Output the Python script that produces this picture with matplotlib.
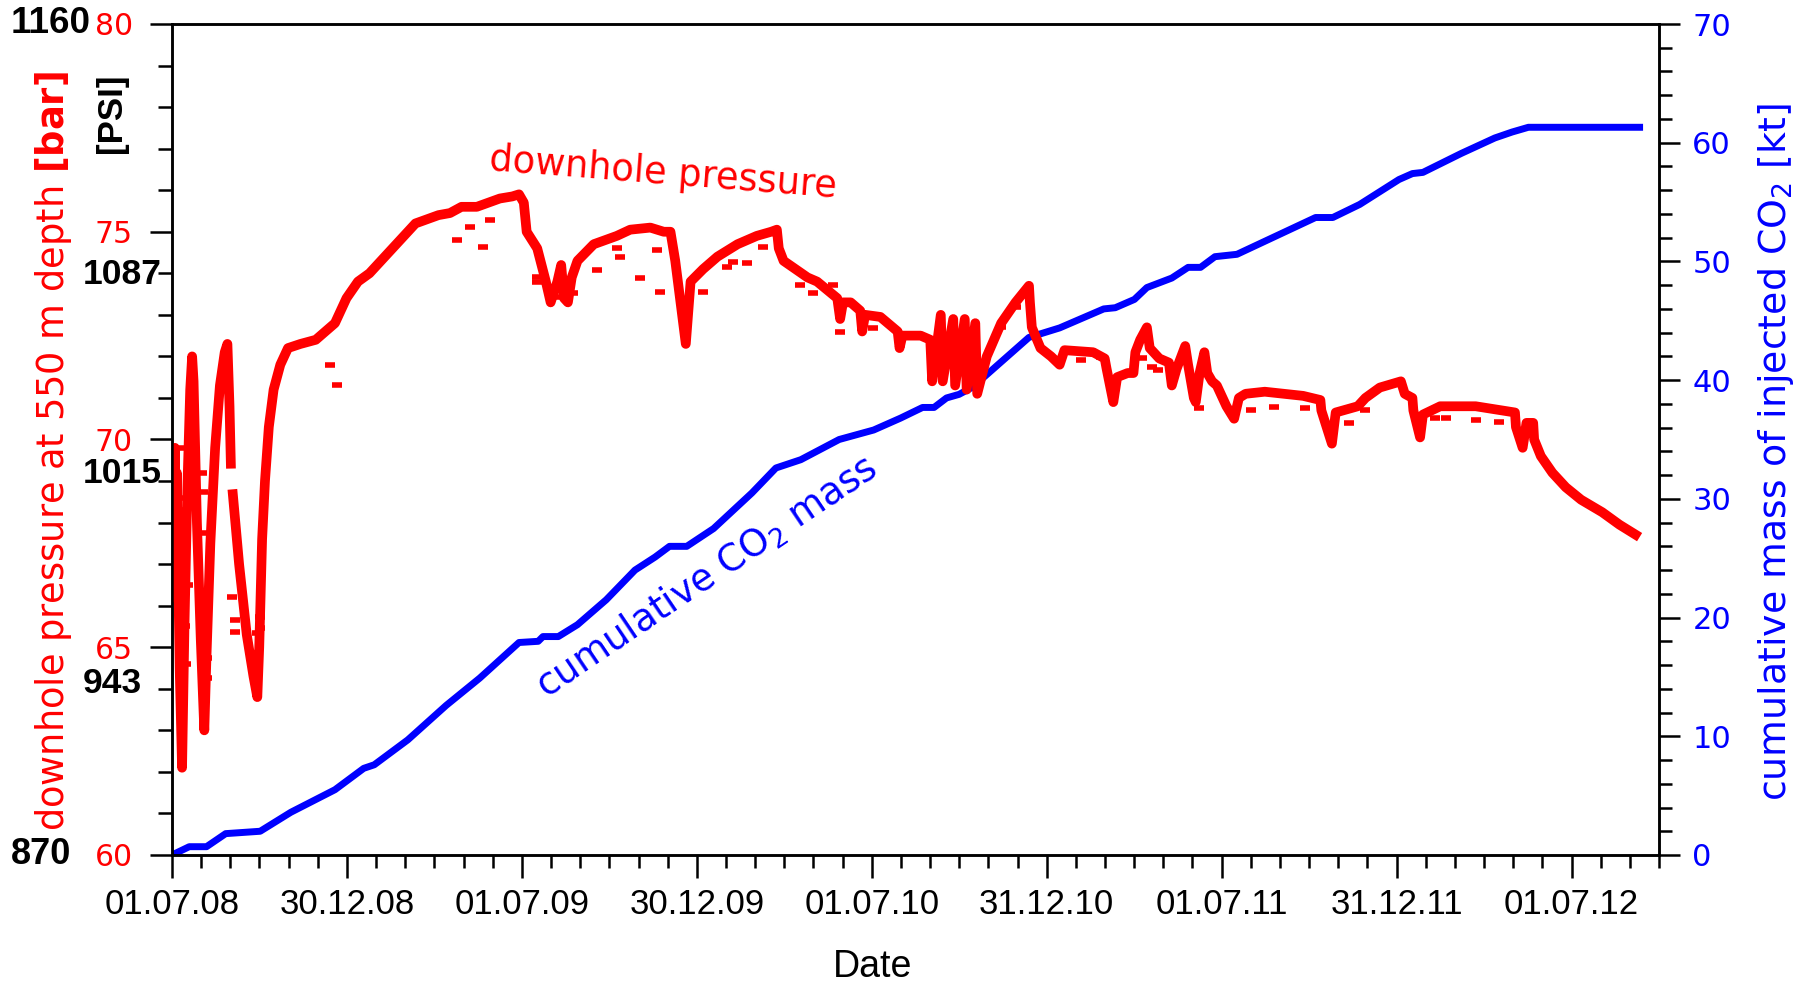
import numpy as np
import matplotlib
matplotlib.use("Agg")
import matplotlib.pyplot as plt
from matplotlib.transforms import blended_transform_factory

plt.rcParams["font.family"] = "DejaVu Sans"
plt.rcParams["mathtext.fontset"] = "dejavusans"

# ---------------- data ----------------
# time axis: days since 01.07.2008, labelled every half year (182.5 d)
x_tick_labels = ["01.07.08", "30.12.08", "01.07.09", "30.12.09", "01.07.10",
                 "31.12.10", "01.07.11", "31.12.11", "01.07.12"]
half_year = 182.5
x_end = 1551.25

# cumulative injected CO2 mass [kt]
mass_day = [0, 18, 36, 56, 74, 92, 124, 170, 200, 211, 246, 286, 321, 362, 382,
            387, 403, 423, 453, 483, 504, 519, 537, 565, 605, 630, 656, 696, 732,
            760, 783, 795, 808, 821, 835, 894, 926, 972, 984, 1004, 1017, 1043,
            1060, 1073, 1088, 1111, 1193, 1211, 1239, 1280, 1294, 1305, 1345,
            1380, 1398, 1415, 1531]
mass_kt = [0, 0.7, 0.7, 1.8, 1.9, 2.0, 3.6, 5.5, 7.3, 7.6, 9.7, 12.6, 14.9, 17.9,
           18.0, 18.4, 18.4, 19.4, 21.5, 24.0, 25.1, 26.0, 26.0, 27.5, 30.5, 32.6,
           33.3, 35.0, 35.8, 36.8, 37.7, 37.7, 38.5, 38.8, 39.4, 43.6, 44.4, 46.0,
           46.1, 46.8, 47.8, 48.6, 49.5, 49.5, 50.4, 50.6, 53.7, 53.7, 54.8, 56.9,
           57.4, 57.5, 59.1, 60.4, 60.9, 61.3, 61.3]

# downhole pressure at 550 m depth [bar] (NaN marks a data gap)
p_day = [0, 1, 2, 3, 4, 5, 6, 7, 8, 10.5, 13, 16, 19, 21, 22.5, 26, 30, 33.7, 36,
         40, 45, 50, 55, 57.8, 60, 61.5, np.nan, 63, 70, 78, 85, 89, 91, 94, 97,
         101, 106, 113, 121, 134, 150, 160, 170, 182, 194, 206, 218, 230, 242,
         254, 266, 278, 290, 302, 318, 330, 342, 355, 362, 367, 370, 381, 390,
         395, 402, 406, 409, 413, 417, 423, 440, 464, 478, 499, 513, 520, 525,
         530, 536, 541, 554, 569, 590, 610, 625, 631, 633, 638, 663, 673, 694,
         697, 700, 708, 718, 720, 723, 739, 757, 759, 762, 781, 791, 793, 802,
         804, 815, 817, 827, 829, 838, 840, 850, 865, 880, 894, 895, 897, 906,
         917, 926, 931, 961, 973, 975, 982, 986, 997, 1003, 1005, 1010, 1017,
         1020, 1030, 1040, 1043, 1048, 1057, 1060, 1066, 1068, 1072, 1077, 1080,
         1085, 1090, 1100, 1108, 1113, 1120, 1140, 1160, 1180, 1198, 1199, 1210,
         1214, 1237, 1245, 1260, 1282, 1286, 1294, 1295, 1302, 1305, 1323, 1360,
         1401, 1402, 1409, 1413, 1420, 1421, 1428, 1440, 1454, 1470, 1492, 1510,
         1531]
p_bar = [67.5, 69.6, 66.2, 69.8, 66.8, 69.2, 67.0, 66.0, 64.5, 62.1, 65.5, 68.8,
         71.2, 72.0, 71.4, 68.0, 65.2, 63.0, 64.8, 67.5, 69.8, 71.3, 72.1, 72.3,
         70.8, 69.3, np.nan, 68.8, 67.0, 65.3, 64.3, 63.8, 65.0, 67.6, 69.0, 70.3,
         71.2, 71.8, 72.2, 72.3, 72.4, 72.6, 72.8, 73.4, 73.8, 74.0, 74.3, 74.6,
         74.9, 75.2, 75.3, 75.4, 75.45, 75.6, 75.6, 75.7, 75.8, 75.85, 75.9, 75.7,
         75.0, 74.6, 73.8, 73.3, 73.8, 74.2, 73.4, 73.3, 73.9, 74.3, 74.7, 74.9,
         75.05, 75.1, 75.0, 75.0, 74.3, 73.4, 72.3, 73.8, 74.1, 74.4, 74.7, 74.9,
         75.0, 75.05, 74.6, 74.3, 73.9, 73.8, 73.4, 72.9, 73.3, 73.3, 73.1, 72.6,
         73.0, 72.95, 72.6, 72.2, 72.5, 72.5, 72.4, 71.4, 73.0, 71.4, 72.9, 71.3,
         72.9, 71.2, 72.8, 71.1, 72.0, 72.8, 73.3, 73.7, 73.3, 72.7, 72.2, 72.0,
         71.8, 72.15, 72.1, 71.95, 71.7, 70.9, 71.5, 71.6, 71.6, 72.1, 72.4, 72.7,
         72.2, 71.95, 71.85, 71.3, 71.7, 72.25, 71.8, 71.0, 70.9, 71.6, 72.1,
         71.6, 71.4, 71.3, 70.8, 70.5, 71.0, 71.1, 71.15, 71.1, 71.05, 70.95,
         70.7, 69.9, 70.65, 70.8, 71.0, 71.25, 71.4, 71.1, 71.0, 70.7, 70.05,
         70.6, 70.8, 70.8, 70.65, 70.3, 69.8, 70.4, 70.4, 70.0, 69.6, 69.2, 68.85,
         68.55, 68.25, 67.95, 67.65]

# isolated low pressure readings scattered below the main record
spike_day = [1, 1.5, 2.5, 3.5, 4.5, 5.5, 6.5, 8, 9, 11, 12, 14, 15, 17, 31.3,
             32.4, 32.4, 36.5, 36.5, 62.6, 65.8, 65.8, 88.7, 88.7, 91.9, 91.9,
             165, 172, 297.5, 311.1, 324.7, 332.0, 381.0, 381.0, 401.9, 418.6,
             443.7, 464.5, 467.7, 488.5, 506.3, 509.4, 537.6, 554.3, 579.4, 585.6,
             600.2, 617.0, 655.6, 669.1, 690.0, 697.3, 731.8, 864.3, 880.0, 947.9,
             968.7, 1011.5, 1022.0, 1028.2, 1071.0, 1125.3, 1149.3, 1181.7,
             1227.6, 1244.3, 1317.4, 1328.9, 1360.2, 1384.2]
spike_bar = [68.8, 67.6, 68.4, 67.2, 68.0, 66.4, 68.6, 69.8, 67.2, 68.3, 66.6,
             65.5, 64.6, 66.5, 69.19, 68.74, 67.75, 64.74, 64.26, 66.21, 65.66,
             65.37, 65.34, 64.77, 65.73, 65.46, 71.8, 71.3, 74.80, 75.11, 74.63,
             75.28, 73.91, 73.79, 73.43, 73.53, 74.08, 74.61, 74.39, 73.89, 74.56,
             73.55, 73.19, 73.55, 74.15, 74.27, 74.25, 74.63, 73.72, 73.53, 73.72,
             72.59, 72.68, 72.71, 73.19, 71.91, 71.99, 71.96, 71.74, 71.67, 70.76,
             70.71, 70.78, 70.76, 70.40, 70.71, 70.52, 70.52, 70.47, 70.42]

# pressure axis ticks [bar] and the PSI equivalents printed beside them
bar_ticks = [60, 65, 70, 75, 80]
psi_labels = ["1160", "1087", "1015", "943", "870"]
psi_at_bar = [80, 73.98, 69.17, 64.12, 60]
mass_ticks = [0, 10, 20, 30, 40, 50, 60, 70]

# ---------------- figure ----------------
W, H = 1808, 982
fig = plt.figure(figsize=(W / 100, H / 100), dpi=100)
ax = fig.add_axes([172 / W, 127 / H, 1487 / W, 831 / H])
ax2 = ax.twinx()
ax.set_zorder(ax2.get_zorder() + 1)
ax.patch.set_visible(False)

RED, BLUE = "#ff0000", "#0000ff"
NARROW = "Liberation Sans"
BOLD_SANS = "Liberation Sans"

ax2.plot(mass_day, mass_kt, color=BLUE, lw=5, solid_joinstyle="round")
ax.plot(p_day, p_bar, color=RED, lw=7, solid_joinstyle="round",
        solid_capstyle="butt")
ax.plot(spike_day, spike_bar, ls="none", marker="_", ms=7, mew=4, color=RED)

ax.set_xlim(0, x_end)
ax.set_ylim(60, 80)
ax2.set_ylim(0, 70)

ax.set_xticks(np.arange(len(x_tick_labels)) * half_year, x_tick_labels,
              fontsize=25, family=NARROW)
ax.set_xticks(np.arange(0, x_end + 1, half_year / 6), minor=True)
ax.set_yticks(bar_ticks, [str(v) for v in bar_ticks], fontsize=21.5, color=RED)
ax.set_yticks(np.arange(60, 81, 1), minor=True)
ax2.set_yticks(mass_ticks, [str(v) for v in mass_ticks], fontsize=22, color=BLUE)
ax2.set_yticks(np.arange(0, 71, 2), minor=True)

ax.tick_params(axis="x", which="major", direction="out", length=16.5, width=1.8,
               pad=7, colors="black")
ax.tick_params(axis="x", which="minor", direction="out", length=9.5, width=1.8)
ax.tick_params(axis="y", which="major", direction="out", length=16, width=1.8,
               pad=12, labelcolor=RED, color="black", right=False)
ax.tick_params(axis="y", which="minor", direction="out", length=10, width=1.8,
               right=False)
ax2.tick_params(axis="y", which="major", direction="out", length=15, width=1.8,
                pad=9, labelcolor=BLUE, color="black", left=False)
ax2.tick_params(axis="y", which="minor", direction="out", length=9.5, width=1.8,
                left=False)

for a in (ax, ax2):
    for s in a.spines.values():
        s.set_linewidth(1.8)
        s.set_color("black")

# PSI equivalents next to the bar scale
trans = blended_transform_factory(fig.transFigure, ax.transData)
psi_x = [11, 83, 83, 83, 11]
psi_size = [26.5, 25.5, 25.5, 25.5, 26]
for lab, yb, xp, fs in zip(psi_labels, psi_at_bar, psi_x, psi_size):
    ax.text(xp / W, yb, lab, transform=trans, ha="left", va="center",
            fontsize=fs, fontweight="bold", family=BOLD_SANS, color="black",
            clip_on=False)

# axis titles
fig.text(54 / W, 1 - 451 / H, r"downhole pressure at 550 m depth $\mathbf{[bar]}$",
         rotation=90, ha="center", va="center", color=RED, fontsize=26.5)
fig.text(111 / W, 1 - 113 / H, "[PSI]", rotation=90, ha="center", va="center",
         fontsize=25, fontweight="bold", family=BOLD_SANS, color="black")
fig.text(1776 / W, 1 - 452 / H, r"cumulative mass of injected CO$_2$ [kt]",
         rotation=90, ha="center", va="center", color=BLUE, fontsize=27.3)
fig.text(873 / W, 5 / H, "Date", ha="center", va="baseline", fontsize=27,
         family=NARROW)

# curve annotations
ax.text(511, 76.15, "downhole pressure", rotation=-4.5, rotation_mode="anchor",
        ha="center", va="baseline", color=RED, fontsize=26.5)
ax2.text(564, 22.6, r"cumulative CO$_2$ mass", rotation=34, rotation_mode="anchor",
         ha="center", va="baseline", color=BLUE, fontsize=26.8)

fig.savefig("out.png", dpi=100)
